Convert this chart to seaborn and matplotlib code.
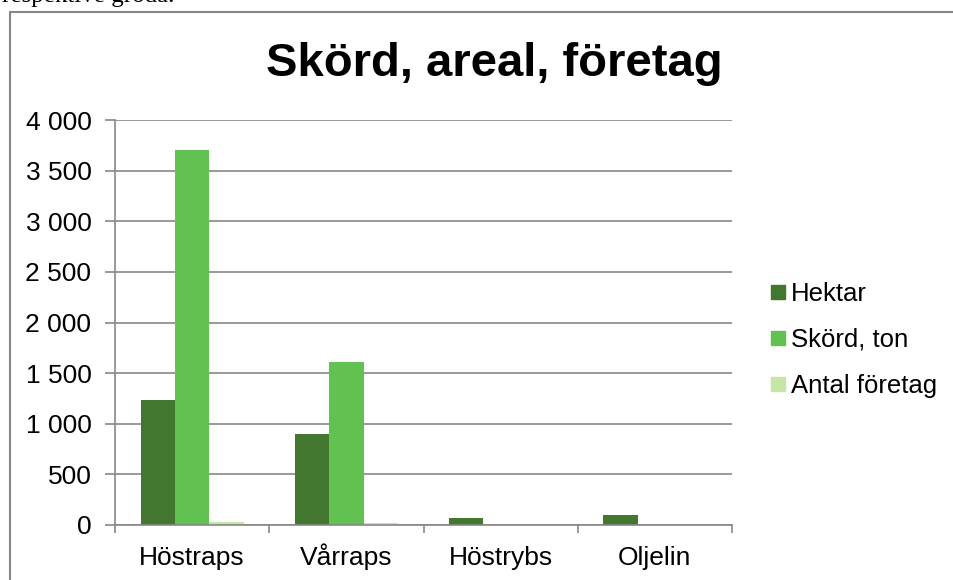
import pandas as pd
import seaborn as sns
import matplotlib.pyplot as plt
from matplotlib.lines import Line2D
from matplotlib.ticker import FuncFormatter

grodor = ['Höstraps', 'Vårraps', 'Höstrybs', 'Oljelin']
hektar = [1230, 895, 70, 95]
skord = [3700, 1605, 0, 0]
antal = [27, 20, 3, 2]
serier = ['Hektar', 'Skörd, ton', 'Antal företag']
farger = ['#43762F', '#62C251', '#C5E6A6']

df = pd.DataFrame({
    'Gröda': grodor * 3,
    'Serie': [serier[0]] * 4 + [serier[1]] * 4 + [serier[2]] * 4,
    'Värde': hektar + skord + antal,
})

sns.set_style('white')
plt.rcParams['font.family'] = ['Liberation Sans', 'DejaVu Sans']
plt.rcParams['text.color'] = 'black'
plt.rcParams['xtick.color'] = 'black'
plt.rcParams['ytick.color'] = 'black'

fig = plt.figure(figsize=(9.54, 5.8), dpi=100)
ax = fig.add_axes([115 / 954, 55 / 580, 617 / 954, 405 / 580])

sns.barplot(data=df, x='Gröda', y='Värde', hue='Serie', palette=farger,
            width=0.667, saturation=1, linewidth=0, ax=ax)

ax.set_ylim(0, 4000)
ax.set_xlim(-0.5, 3.5)
ax.set_yticks(range(0, 4001, 500))
ax.yaxis.set_major_formatter(FuncFormatter(lambda v, p: f'{int(v):,}'.replace(',', ' ')))
ax.grid(axis='y', color='#878787', linewidth=1.2)
ax.set_axisbelow(True)
ax.set_xlabel('')
ax.set_ylabel('')

for s in ['top', 'right']:
    ax.spines[s].set_visible(False)
for s in ['left', 'bottom']:
    ax.spines[s].set_color('#878787')
    ax.spines[s].set_linewidth(1.2)

ax.tick_params(axis='y', which='major', length=7, width=1.2, color='#878787',
               labelcolor='black', labelsize=19, pad=10, left=True)
ax.tick_params(axis='x', which='major', length=0, labelcolor='black', labelsize=19, pad=29)
for lbl in ax.get_xticklabels():
    lbl.set_verticalalignment('baseline')
ax.set_xticks([-0.5, 0.5, 1.5, 2.5, 3.5], minor=True)
ax.tick_params(axis='x', which='minor', length=6, width=1.2, color='#878787', bottom=True)

ax.get_legend().remove()
handles = [Line2D([], [], marker='s', linestyle='', markersize=10,
                  markerfacecolor=c, markeredgecolor=c) for c in farger]
fig.legend(handles, serier, loc='center left', bbox_to_anchor=(761 / 954, 1 - 340 / 580),
           frameon=False, fontsize=18.5, handlelength=0.5, handletextpad=0.25,
           labelspacing=0.85, borderaxespad=0)

fig.text(494 / 954, 1 - 64 / 580, 'Skörd, areal, företag', ha='center', va='center',
         fontsize=34, fontweight='bold', color='black')

# ram runt diagrammet (beskuren i höger- och nederkant)
fig.add_artist(Line2D([10 / 954, 1], [1 - 12 / 580, 1 - 12 / 580], color='#878787', lw=1.5))
fig.add_artist(Line2D([10 / 954, 10 / 954], [0, 1 - 12 / 580], color='#878787', lw=1.5))

fig.text(2 / 954, 1 - 2 / 580, 'respektive gröda.', ha='left', va='baseline',
         fontsize=18, color='black', family=['Liberation Serif', 'DejaVu Serif'])

fig.savefig('out.png', dpi=100)
